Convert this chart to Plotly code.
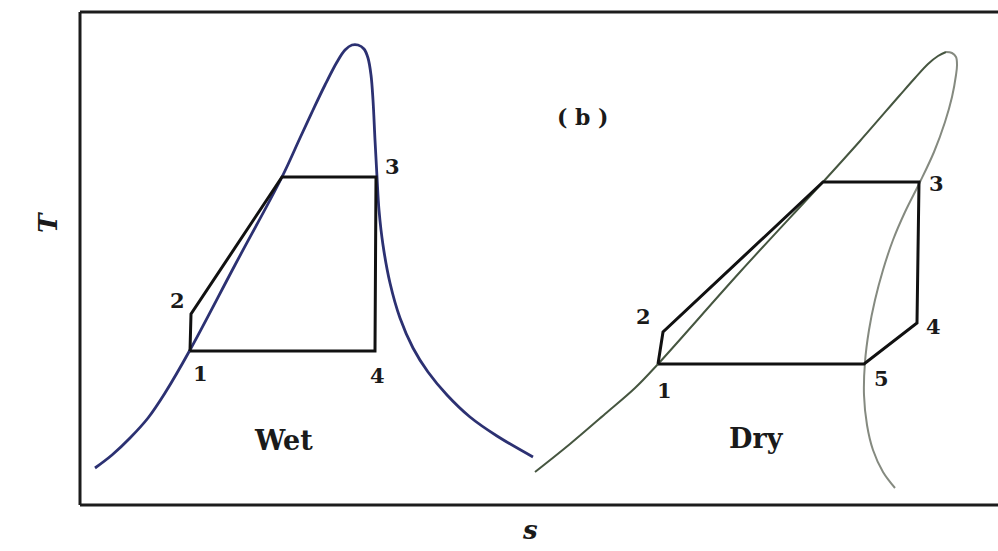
import plotly.graph_objects as go

W, H = 998, 551

# ---- data (s in px-like units, T = 551 - y_px) ----
wet_dome_s = [95, 112, 130, 148, 165, 190, 235, 282, 300, 313, 325, 337, 345, 352, 358, 364, 368, 371, 373, 375,
              377, 379, 383, 390, 400, 413, 428, 447, 470, 497, 533]
wet_dome_y = [468, 455, 438, 418, 393, 350, 265, 177, 138, 110, 85, 62, 50, 45, 45, 49, 58, 75, 100, 140,
              177, 210, 245, 283, 318, 348, 372, 395, 417, 436, 457]

wet_cycle_s = [190, 191, 282, 376, 375, 190]
wet_cycle_y = [351, 314, 177, 177, 351, 351]

dry_dome_left_s = [535, 570, 605, 635, 658, 740, 823, 860, 900, 915, 928, 938, 946]
dry_dome_left_y = [472, 444, 414, 388, 364, 272, 182, 141, 95, 78, 64, 56, 52]
dry_dome_right_s = [946, 952, 956, 957, 956, 952, 945, 934, 920, 905, 893, 883, 875, 869, 865, 864, 867, 873, 883, 895]
dry_dome_right_y = [52, 53, 57, 65, 75, 97, 122, 152, 182, 212, 240, 270, 300, 330, 362, 395, 425, 450, 472, 488]

dry_cycle_s = [658, 663, 823, 919, 917, 864, 658]
dry_cycle_y = [364, 332, 182, 182, 323, 364, 364]

labels_text = ["2", "1", "4", "3", "Wet", "2", "1", "5", "4", "3", "Dry", "( b )"]
labels_s = [177, 200, 377, 392, 283, 643, 664, 881, 933, 936, 756, 583]
labels_y = [300, 373, 375, 166, 440, 316, 390, 378, 326, 183, 438, 117]
labels_size = [21, 21, 21, 21, 27, 21, 21, 21, 21, 21, 27, 22]


def T(ys):
    return [H - v for v in ys]


fig = go.Figure()

fig.add_trace(go.Scatter(x=wet_dome_s, y=T(wet_dome_y), mode="lines",
                         line=dict(color="#2c3172", width=2.8, shape="spline", smoothing=1.0),
                         hoverinfo="skip"))
fig.add_trace(go.Scatter(x=wet_cycle_s, y=T(wet_cycle_y), mode="lines",
                         line=dict(color="#111111", width=3), hoverinfo="skip"))
fig.add_trace(go.Scatter(x=dry_dome_left_s, y=T(dry_dome_left_y), mode="lines",
                         line=dict(color="#465640", width=2, shape="spline", smoothing=1.0),
                         hoverinfo="skip"))
fig.add_trace(go.Scatter(x=dry_dome_right_s, y=T(dry_dome_right_y), mode="lines",
                         line=dict(color="#858a80", width=2, shape="spline", smoothing=1.0),
                         hoverinfo="skip"))
fig.add_trace(go.Scatter(x=dry_cycle_s, y=T(dry_cycle_y), mode="lines",
                         line=dict(color="#111111", width=3), hoverinfo="skip"))

for t, sx, sy, fs in zip(labels_text, labels_s, labels_y, labels_size):
    fig.add_annotation(x=sx, y=H - sy, text="<b>" + t + "</b>", showarrow=False,
                       font=dict(family="DejaVu Serif", size=fs, color="#1a1a1a"),
                       xanchor="center", yanchor="middle")

# axis titles
fig.add_annotation(x=48, y=H - 223, text="<b><i>T</i></b>", showarrow=False, textangle=-90,
                   font=dict(family="DejaVu Serif", size=26, color="#1a1a1a"),
                   xanchor="center", yanchor="middle")
fig.add_annotation(x=530, y=H - 530, text="<b><i>s</i></b>", showarrow=False,
                   font=dict(family="DejaVu Serif", size=26, color="#1a1a1a"),
                   xanchor="center", yanchor="middle")

# frame
frame = dict(color="#1c1c1c", width=3)
fig.add_shape(type="line", x0=80, x1=80, y0=H - 12, y1=H - 505, line=frame)
fig.add_shape(type="line", x0=80, x1=1010, y0=H - 12, y1=H - 12, line=frame)
fig.add_shape(type="line", x0=80, x1=1010, y0=H - 505, y1=H - 505, line=frame)

fig.update_layout(
    width=W, height=H,
    margin=dict(l=0, r=0, t=0, b=0),
    paper_bgcolor="white", plot_bgcolor="white",
    showlegend=False,
    xaxis=dict(range=[0, W], visible=False, fixedrange=True),
    yaxis=dict(range=[0, H], visible=False, fixedrange=True),
)

fig.write_html("out.html", config={"displayModeBar": False})
